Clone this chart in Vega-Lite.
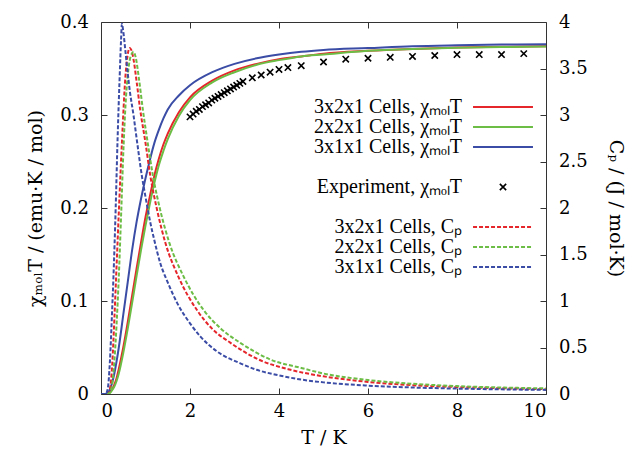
{
  "$schema": "https://vega.github.io/schema/vega-lite/v6.json",
  "width": 445,
  "height": 372,
  "autosize": "none",
  "padding": {"left": 101, "top": 22, "right": 94, "bottom": 61},
  "background": "white",
  "config": {
    "font": "DejaVu Serif",
    "style": {"guide-label": {"font": "DejaVu Serif"}, "guide-title": {"font": "DejaVu Serif"}},
    "view": {"stroke": "#333333", "strokeWidth": 1},
    "axis": {
      "domain": false, "grid": false, "ticks": true, "tickColor": "#333333", "tickSize": -6, "tickWidth": 1,
      "labelFont": "DejaVu Serif", "labelFontSize": 18, "labelColor": "black",
      "titleFont": "DejaVu Serif", "titleFontSize": 19, "titleFontWeight": "normal", "titleColor": "black"
    },
    "legend": {"labelFont": "Liberation Serif", "labelFontSize": 20, "labelColor": "black", "labelLimit": 0, "padding": 0, "rowPadding": 0, "direction": "vertical", "orient": "none"}
  },
  "datasets": {
    "chi": [
      {"T":0,"chi":0,"model":"3x2x1"},{"T":0.15,"chi":0,"model":"3x2x1"},{"T":0.2,"chi":0.002,"model":"3x2x1"},{"T":0.25,"chi":0.005,"model":"3x2x1"},{"T":0.3,"chi":0.01,"model":"3x2x1"},{"T":0.35,"chi":0.017,"model":"3x2x1"},{"T":0.4,"chi":0.027,"model":"3x2x1"},{"T":0.5,"chi":0.05,"model":"3x2x1"},{"T":0.6,"chi":0.077,"model":"3x2x1"},{"T":0.7,"chi":0.106,"model":"3x2x1"},{"T":0.8,"chi":0.135,"model":"3x2x1"},{"T":0.9,"chi":0.163,"model":"3x2x1"},{"T":1.0,"chi":0.19,"model":"3x2x1"},{"T":1.1,"chi":0.213,"model":"3x2x1"},{"T":1.2,"chi":0.235,"model":"3x2x1"},{"T":1.3,"chi":0.253,"model":"3x2x1"},{"T":1.4,"chi":0.268,"model":"3x2x1"},{"T":1.5,"chi":0.28,"model":"3x2x1"},{"T":1.75,"chi":0.303,"model":"3x2x1"},{"T":2.0,"chi":0.319,"model":"3x2x1"},{"T":2.5,"chi":0.337,"model":"3x2x1"},{"T":3.0,"chi":0.348,"model":"3x2x1"},{"T":3.5,"chi":0.355,"model":"3x2x1"},{"T":4.0,"chi":0.36,"model":"3x2x1"},{"T":4.5,"chi":0.363,"model":"3x2x1"},{"T":5.0,"chi":0.366,"model":"3x2x1"},{"T":6.0,"chi":0.369,"model":"3x2x1"},{"T":7.0,"chi":0.371,"model":"3x2x1"},{"T":8.0,"chi":0.3725,"model":"3x2x1"},{"T":9.0,"chi":0.3733,"model":"3x2x1"},{"T":10.0,"chi":0.3738,"model":"3x2x1"},
      {"T":0,"chi":0,"model":"2x2x1"},{"T":0.15,"chi":0,"model":"2x2x1"},{"T":0.2,"chi":0.001,"model":"2x2x1"},{"T":0.25,"chi":0.004,"model":"2x2x1"},{"T":0.3,"chi":0.008,"model":"2x2x1"},{"T":0.35,"chi":0.014,"model":"2x2x1"},{"T":0.4,"chi":0.022,"model":"2x2x1"},{"T":0.5,"chi":0.044,"model":"2x2x1"},{"T":0.6,"chi":0.07,"model":"2x2x1"},{"T":0.7,"chi":0.098,"model":"2x2x1"},{"T":0.8,"chi":0.127,"model":"2x2x1"},{"T":0.9,"chi":0.155,"model":"2x2x1"},{"T":1.0,"chi":0.181,"model":"2x2x1"},{"T":1.1,"chi":0.205,"model":"2x2x1"},{"T":1.2,"chi":0.227,"model":"2x2x1"},{"T":1.3,"chi":0.246,"model":"2x2x1"},{"T":1.4,"chi":0.261,"model":"2x2x1"},{"T":1.5,"chi":0.274,"model":"2x2x1"},{"T":1.75,"chi":0.299,"model":"2x2x1"},{"T":2.0,"chi":0.316,"model":"2x2x1"},{"T":2.5,"chi":0.335,"model":"2x2x1"},{"T":3.0,"chi":0.346,"model":"2x2x1"},{"T":3.5,"chi":0.354,"model":"2x2x1"},{"T":4.0,"chi":0.359,"model":"2x2x1"},{"T":4.5,"chi":0.363,"model":"2x2x1"},{"T":5.0,"chi":0.365,"model":"2x2x1"},{"T":6.0,"chi":0.369,"model":"2x2x1"},{"T":7.0,"chi":0.371,"model":"2x2x1"},{"T":8.0,"chi":0.3723,"model":"2x2x1"},{"T":9.0,"chi":0.3731,"model":"2x2x1"},{"T":10.0,"chi":0.3736,"model":"2x2x1"},
      {"T":0,"chi":0,"model":"3x1x1"},{"T":0.1,"chi":0,"model":"3x1x1"},{"T":0.15,"chi":0.001,"model":"3x1x1"},{"T":0.2,"chi":0.005,"model":"3x1x1"},{"T":0.25,"chi":0.012,"model":"3x1x1"},{"T":0.3,"chi":0.022,"model":"3x1x1"},{"T":0.35,"chi":0.035,"model":"3x1x1"},{"T":0.4,"chi":0.05,"model":"3x1x1"},{"T":0.5,"chi":0.085,"model":"3x1x1"},{"T":0.6,"chi":0.12,"model":"3x1x1"},{"T":0.7,"chi":0.155,"model":"3x1x1"},{"T":0.8,"chi":0.185,"model":"3x1x1"},{"T":0.9,"chi":0.21,"model":"3x1x1"},{"T":1.0,"chi":0.232,"model":"3x1x1"},{"T":1.1,"chi":0.252,"model":"3x1x1"},{"T":1.2,"chi":0.27,"model":"3x1x1"},{"T":1.3,"chi":0.284,"model":"3x1x1"},{"T":1.4,"chi":0.296,"model":"3x1x1"},{"T":1.5,"chi":0.306,"model":"3x1x1"},{"T":1.75,"chi":0.321,"model":"3x1x1"},{"T":2.0,"chi":0.332,"model":"3x1x1"},{"T":2.5,"chi":0.346,"model":"3x1x1"},{"T":2.75,"chi":0.351,"model":"3x1x1"},{"T":3.0,"chi":0.355,"model":"3x1x1"},{"T":3.5,"chi":0.361,"model":"3x1x1"},{"T":4.0,"chi":0.365,"model":"3x1x1"},{"T":4.5,"chi":0.368,"model":"3x1x1"},{"T":5.0,"chi":0.37,"model":"3x1x1"},{"T":6.0,"chi":0.372,"model":"3x1x1"},{"T":7.0,"chi":0.374,"model":"3x1x1"},{"T":8.0,"chi":0.375,"model":"3x1x1"},{"T":9.0,"chi":0.3757,"model":"3x1x1"},{"T":10.0,"chi":0.3762,"model":"3x1x1"}
    ],
    "exp": [
      {"T":2.0,"chi":0.298},{"T":2.07,"chi":0.301},{"T":2.14,"chi":0.304},{"T":2.21,"chi":0.306},{"T":2.28,"chi":0.309},{"T":2.35,"chi":0.311},{"T":2.42,"chi":0.313},{"T":2.49,"chi":0.316},{"T":2.56,"chi":0.318},{"T":2.63,"chi":0.32},{"T":2.7,"chi":0.322},{"T":2.77,"chi":0.324},{"T":2.84,"chi":0.326},{"T":2.91,"chi":0.328},{"T":2.98,"chi":0.33},{"T":3.05,"chi":0.332},{"T":3.12,"chi":0.334},{"T":3.19,"chi":0.336},{"T":3.4,"chi":0.34},{"T":3.6,"chi":0.343},{"T":3.8,"chi":0.346},{"T":4.0,"chi":0.349},{"T":4.2,"chi":0.351},{"T":4.5,"chi":0.353},{"T":5.0,"chi":0.357},{"T":5.5,"chi":0.36},{"T":6.0,"chi":0.361},{"T":6.5,"chi":0.362},{"T":7.0,"chi":0.363},{"T":7.5,"chi":0.364},{"T":8.0,"chi":0.365},{"T":8.5,"chi":0.365},{"T":9.0,"chi":0.365},{"T":9.5,"chi":0.366}
    ],
    "cp": [
      {"T":0,"cp":0,"model":"3x2x1"},{"T":0.15,"cp":0,"model":"3x2x1"},{"T":0.2,"cp":0.05,"model":"3x2x1"},{"T":0.25,"cp":0.3,"model":"3x2x1"},{"T":0.3,"cp":0.8,"model":"3x2x1"},{"T":0.34,"cp":1.26,"model":"3x2x1"},{"T":0.4,"cp":1.95,"model":"3x2x1"},{"T":0.47,"cp":2.7,"model":"3x2x1"},{"T":0.55,"cp":3.42,"model":"3x2x1"},{"T":0.6,"cp":3.65,"model":"3x2x1"},{"T":0.64,"cp":3.72,"model":"3x2x1"},{"T":0.68,"cp":3.7,"model":"3x2x1"},{"T":0.73,"cp":3.6,"model":"3x2x1"},{"T":0.8,"cp":3.36,"model":"3x2x1"},{"T":0.88,"cp":3.06,"model":"3x2x1"},{"T":1.0,"cp":2.7,"model":"3x2x1"},{"T":1.11,"cp":2.34,"model":"3x2x1"},{"T":1.26,"cp":1.98,"model":"3x2x1"},{"T":1.45,"cp":1.62,"model":"3x2x1"},{"T":1.74,"cp":1.26,"model":"3x2x1"},{"T":2.16,"cp":0.9,"model":"3x2x1"},{"T":2.5,"cp":0.7,"model":"3x2x1"},{"T":2.91,"cp":0.55,"model":"3x2x1"},{"T":3.5,"cp":0.38,"model":"3x2x1"},{"T":4.26,"cp":0.26,"model":"3x2x1"},{"T":5.0,"cp":0.19,"model":"3x2x1"},{"T":6.0,"cp":0.13,"model":"3x2x1"},{"T":7.0,"cp":0.095,"model":"3x2x1"},{"T":8.0,"cp":0.075,"model":"3x2x1"},{"T":9.0,"cp":0.062,"model":"3x2x1"},{"T":10.0,"cp":0.052,"model":"3x2x1"},
      {"T":0,"cp":0,"model":"2x2x1"},{"T":0.15,"cp":0,"model":"2x2x1"},{"T":0.2,"cp":0.02,"model":"2x2x1"},{"T":0.25,"cp":0.1,"model":"2x2x1"},{"T":0.3,"cp":0.35,"model":"2x2x1"},{"T":0.35,"cp":0.75,"model":"2x2x1"},{"T":0.4,"cp":1.26,"model":"2x2x1"},{"T":0.45,"cp":1.9,"model":"2x2x1"},{"T":0.51,"cp":2.7,"model":"2x2x1"},{"T":0.55,"cp":3.1,"model":"2x2x1"},{"T":0.6,"cp":3.42,"model":"2x2x1"},{"T":0.66,"cp":3.62,"model":"2x2x1"},{"T":0.73,"cp":3.68,"model":"2x2x1"},{"T":0.78,"cp":3.62,"model":"2x2x1"},{"T":0.85,"cp":3.4,"model":"2x2x1"},{"T":0.94,"cp":3.06,"model":"2x2x1"},{"T":1.05,"cp":2.7,"model":"2x2x1"},{"T":1.17,"cp":2.34,"model":"2x2x1"},{"T":1.33,"cp":1.98,"model":"2x2x1"},{"T":1.54,"cp":1.62,"model":"2x2x1"},{"T":1.86,"cp":1.26,"model":"2x2x1"},{"T":2.31,"cp":0.9,"model":"2x2x1"},{"T":2.7,"cp":0.7,"model":"2x2x1"},{"T":3.13,"cp":0.55,"model":"2x2x1"},{"T":3.81,"cp":0.37,"model":"2x2x1"},{"T":4.5,"cp":0.28,"model":"2x2x1"},{"T":5.0,"cp":0.22,"model":"2x2x1"},{"T":6.0,"cp":0.15,"model":"2x2x1"},{"T":7.0,"cp":0.11,"model":"2x2x1"},{"T":8.0,"cp":0.085,"model":"2x2x1"},{"T":9.0,"cp":0.07,"model":"2x2x1"},{"T":10.0,"cp":0.06,"model":"2x2x1"},
      {"T":0,"cp":0,"model":"3x1x1"},{"T":0.1,"cp":0,"model":"3x1x1"},{"T":0.15,"cp":0.05,"model":"3x1x1"},{"T":0.2,"cp":0.35,"model":"3x1x1"},{"T":0.25,"cp":0.9,"model":"3x1x1"},{"T":0.28,"cp":1.26,"model":"3x1x1"},{"T":0.33,"cp":2.0,"model":"3x1x1"},{"T":0.37,"cp":2.7,"model":"3x1x1"},{"T":0.42,"cp":3.42,"model":"3x1x1"},{"T":0.45,"cp":3.8,"model":"3x1x1"},{"T":0.47,"cp":3.98,"model":"3x1x1"},{"T":0.5,"cp":3.9,"model":"3x1x1"},{"T":0.55,"cp":3.68,"model":"3x1x1"},{"T":0.6,"cp":3.45,"model":"3x1x1"},{"T":0.65,"cp":3.25,"model":"3x1x1"},{"T":0.73,"cp":3.0,"model":"3x1x1"},{"T":0.8,"cp":2.75,"model":"3x1x1"},{"T":0.92,"cp":2.34,"model":"3x1x1"},{"T":1.0,"cp":2.12,"model":"3x1x1"},{"T":1.11,"cp":1.84,"model":"3x1x1"},{"T":1.2,"cp":1.65,"model":"3x1x1"},{"T":1.33,"cp":1.41,"model":"3x1x1"},{"T":1.5,"cp":1.2,"model":"3x1x1"},{"T":1.71,"cp":0.98,"model":"3x1x1"},{"T":2.0,"cp":0.76,"model":"3x1x1"},{"T":2.23,"cp":0.62,"model":"3x1x1"},{"T":2.6,"cp":0.46,"model":"3x1x1"},{"T":3.13,"cp":0.33,"model":"3x1x1"},{"T":3.5,"cp":0.26,"model":"3x1x1"},{"T":4.0,"cp":0.2,"model":"3x1x1"},{"T":4.5,"cp":0.155,"model":"3x1x1"},{"T":5.0,"cp":0.125,"model":"3x1x1"},{"T":6.0,"cp":0.09,"model":"3x1x1"},{"T":7.0,"cp":0.07,"model":"3x1x1"},{"T":8.0,"cp":0.058,"model":"3x1x1"},{"T":9.0,"cp":0.05,"model":"3x1x1"},{"T":10.0,"cp":0.044,"model":"3x1x1"}
    ]
  },
  "layer": [
    {
      "layer": [
        {
          "data": {"name": "chi"},
          "mark": {"type": "line", "strokeWidth": 2, "interpolate": "monotone", "clip": true},
          "encoding": {
            "x": {"field": "T", "type": "quantitative", "scale": {"domain": [0, 10], "nice": false},
                  "axis": {"orient": "bottom", "title": "T / K", "values": [0, 2, 4, 6, 8, 10], "labelPadding": 14, "titlePadding": 8,
                           "labelFont": "DejaVu Serif", "titleFont": "DejaVu Serif"}},
            "y": {"field": "chi", "type": "quantitative", "scale": {"domain": [0, 0.4], "nice": false},
                  "axis": {"orient": "left", "title": "χₘₒₗT / (emu·K / mol)", "values": [0, 0.1, 0.2, 0.3, 0.4], "format": "~g", "labelPadding": 18.5, "titlePadding": 14,
                           "labelFont": "DejaVu Serif", "titleFont": "DejaVu Serif"}},
            "color": {"field": "model", "type": "nominal",
                      "scale": {"domain": ["3x2x1", "2x2x1", "3x1x1"], "range": ["#e5262b", "#6cbd45", "#3a4ca5"]},
                      "legend": {"title": null, "orient": "none", "legendX": 392, "legendY": 75, "symbolType": "M-3.33,0L3.33,0", "symbolSize": 324, "symbolStrokeWidth": 2, "labelAlign": "right", "labelOffset": -51, "labelLimit": 0, "labelFont": "Liberation Serif", "labelExpr": "datum.label + ' Cells, χₘₒₗT'"}}
          }
        },
        {
          "data": {"name": "exp"},
          "mark": {"type": "point", "filled": false, "color": "black", "strokeWidth": 1.6, "size": 40, "opacity": 1},
          "encoding": {
            "x": {"field": "T", "type": "quantitative"},
            "y": {"field": "chi", "type": "quantitative"},
            "shape": {"datum": "Experiment, χₘₒₗT", "type": "nominal",
                      "scale": {"range": ["M-1,-1L1,1M1,-1L-1,1"]},
                      "legend": {"title": null, "orient": "none", "legendX": 392, "legendY": 155, "symbolSize": 40, "symbolStrokeWidth": 1.6, "symbolStrokeColor": "black", "symbolFillColor": "transparent", "labelAlign": "right", "labelOffset": -51, "labelLimit": 0, "labelFont": "Liberation Serif"}}
          }
        }
      ]
    },
    {
      "data": {"name": "cp"},
      "mark": {"type": "line", "strokeWidth": 2, "strokeDash": [4, 2], "interpolate": "monotone", "clip": true},
      "encoding": {
        "x": {"field": "T", "type": "quantitative", "scale": {"domain": [0, 10], "nice": false},
              "axis": {"orient": "top", "title": null, "labels": false, "values": [2, 4, 6, 8]}},
        "y": {"field": "cp", "type": "quantitative", "scale": {"domain": [0, 4], "nice": false},
              "axis": {"orient": "right", "title": "Cₚ / (J / mol·K)", "values": [0, 0.5, 1, 1.5, 2, 2.5, 3, 3.5, 4], "format": "~g", "labelPadding": 18.5, "titlePadding": 18,
                       "labelFont": "DejaVu Serif", "titleFont": "DejaVu Serif"}},
        "color": {"field": "model", "type": "nominal",
                  "scale": {"domain": ["3x2x1", "2x2x1", "3x1x1"], "range": ["#e5262b", "#6cbd45", "#3a4ca5"]},
                  "legend": {"title": null, "orient": "none", "legendX": 392, "legendY": 195, "symbolType": "M-3.33,0L3.33,0", "symbolSize": 324, "symbolStrokeWidth": 2, "symbolDash": [4, 2], "labelAlign": "right", "labelOffset": -51, "labelLimit": 0, "labelFont": "Liberation Serif", "labelExpr": "datum.label + ' Cells, Cₚ'"}}
      }
    }
  ],
  "resolve": {"scale": {"y": "independent", "color": "independent"}, "axis": {"x": "independent"}}
}
